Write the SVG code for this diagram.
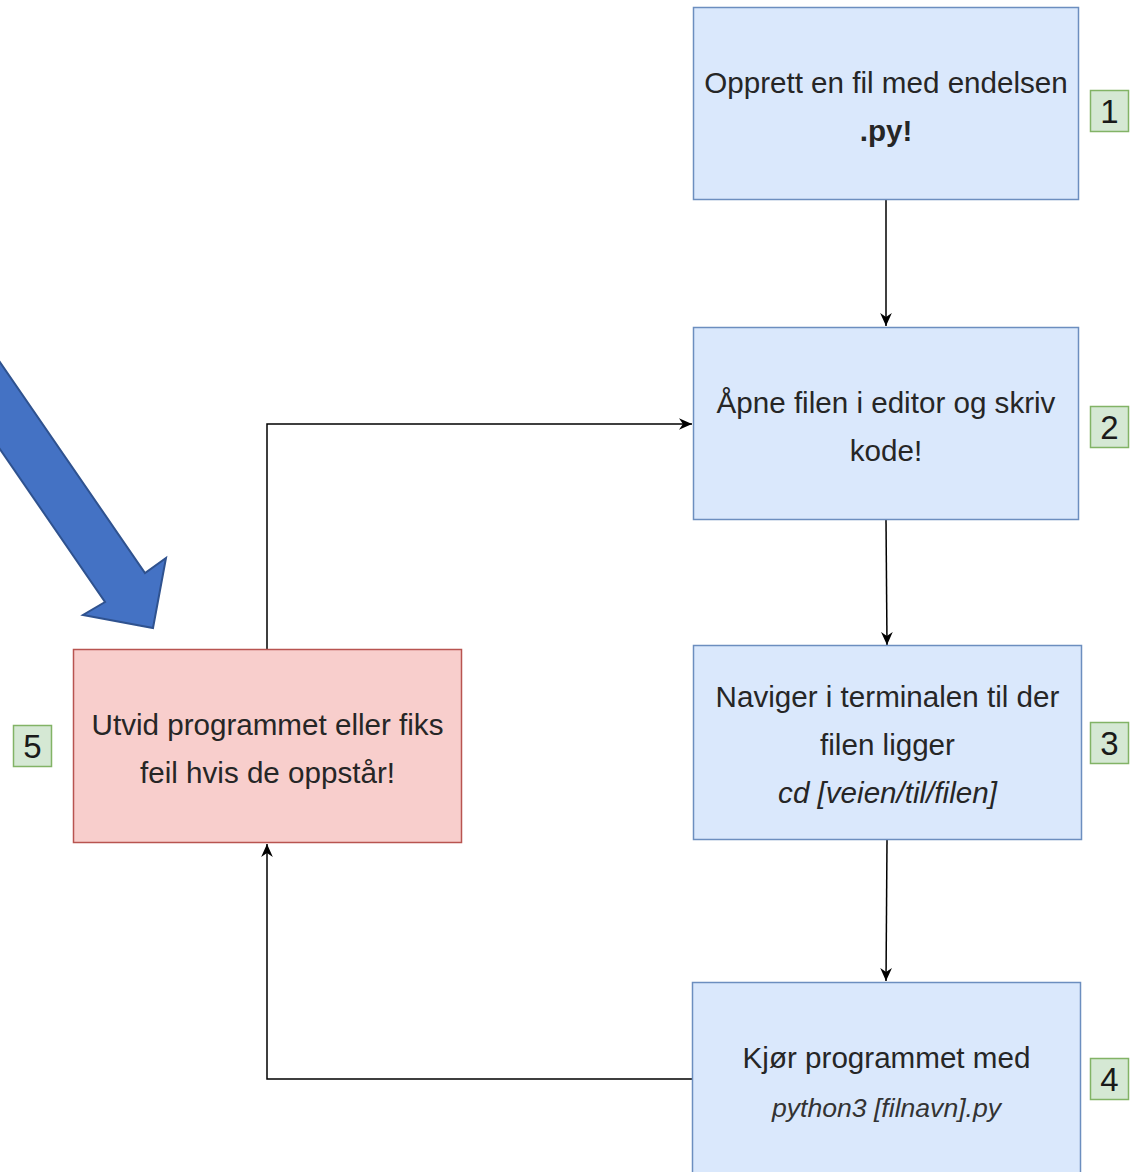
<svg xmlns="http://www.w3.org/2000/svg" width="1135" height="1172" viewBox="0 0 1135 1172">
<defs>
<style>
.box{fill:#dae8fc;stroke:#6c8ebf;stroke-width:1.5}
.red{fill:#f8cecc;stroke:#b85450;stroke-width:1.5}
.num{fill:#d5e8d4;stroke:#82b366;stroke-width:1.5}
.t{font-family:"Liberation Sans",Arial,Helvetica,sans-serif;font-size:29.6px;fill:#262626;text-anchor:middle}
.i{font-style:italic}
.n{font-family:"Liberation Sans",Arial,Helvetica,sans-serif;font-size:33px;fill:#1a1a1a;text-anchor:middle}
.c{fill:none;stroke:#000;stroke-width:1.5}
</style>
<marker id="ah" viewBox="0 0 10 10" refX="10" refY="5" markerWidth="13" markerHeight="13" markerUnits="userSpaceOnUse" orient="auto">
<path d="M0,0.5 L10,5 L0,9.5 L3,5 Z" fill="#000"/>
</marker>
</defs>
<rect width="1135" height="1172" fill="#fff"/>
<g id="big-arrow">
<polygon points="-40,304 145,573 166,558 153,628 83,615 105,602 -40,391" fill="#4472c4" stroke="#2f528f" stroke-width="2" stroke-linejoin="miter"/>
</g>
<g id="connectors">
<path class="c" d="M886,200 L886,326" marker-end="url(#ah)"/>
<path class="c" d="M886,520 L887,645" marker-end="url(#ah)"/>
<path class="c" d="M887,840 L886,981" marker-end="url(#ah)"/>
<path class="c" d="M692,1079 L267,1079 L267,844" marker-end="url(#ah)"/>
<path class="c" d="M267,649 L267,424 L692,424" marker-end="url(#ah)"/>
</g>
<g id="node1">
<rect class="box" x="693.5" y="7.5" width="385" height="192"/>
<text class="t" x="886" y="93">Opprett en fil med endelsen</text>
<text class="t" x="886" y="141" font-weight="bold">.py!</text>
</g>
<g id="label1"><rect class="num" x="1090.5" y="90.5" width="38" height="41"/><text class="n" x="1109.5" y="123">1</text></g>
<g id="node2">
<rect class="box" x="693.5" y="327.5" width="385" height="192"/>
<text class="t" x="886" y="413">Åpne filen i editor og skriv</text>
<text class="t" x="886" y="461">kode!</text>
</g>
<g id="label2"><rect class="num" x="1090.5" y="406.5" width="38" height="41"/><text class="n" x="1109.5" y="439">2</text></g>
<g id="node3">
<rect class="box" x="693.5" y="645.5" width="388" height="194"/>
<text class="t" x="887.5" y="707">Naviger i terminalen til der</text>
<text class="t" x="887.5" y="755">filen ligger</text>
<text class="t i" x="887.5" y="803">cd [veien/til/filen]</text>
</g>
<g id="label3"><rect class="num" x="1090.5" y="722.5" width="38" height="41"/><text class="n" x="1109.5" y="755">3</text></g>
<g id="node4">
<rect class="box" x="692.5" y="982.5" width="388" height="200"/>
<text class="t" x="886.5" y="1068">Kjør programmet med</text>
<text class="t i" x="886.5" y="1117" style="font-size:26.6px;fill:#333">python3 [filnavn].py</text>
</g>
<g id="label4"><rect class="num" x="1090.5" y="1058.5" width="38" height="41"/><text class="n" x="1109.5" y="1091">4</text></g>
<g id="node5">
<rect class="red" x="73.5" y="649.5" width="388" height="193"/>
<text class="t" x="267.5" y="735">Utvid programmet eller fiks</text>
<text class="t" x="267.5" y="783">feil hvis de oppstår!</text>
</g>
<g id="label5"><rect class="num" x="13.5" y="725.5" width="38" height="41"/><text class="n" x="32.5" y="758">5</text></g>
</svg>
